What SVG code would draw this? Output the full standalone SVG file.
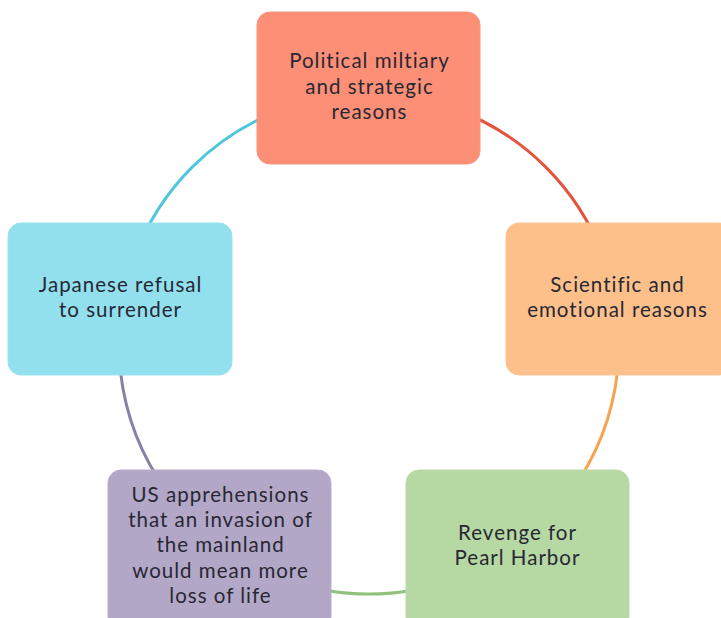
<svg xmlns="http://www.w3.org/2000/svg" width="721" height="618" viewBox="0 0 721 618">
<style>
.box{stroke-width:1.5}
.lbl{font-family:Lato,"Open Sans",sans-serif;font-size:20.5px;letter-spacing:1px;fill:#272833;text-anchor:middle}
.arc{fill:none;stroke-width:3;stroke-linecap:round}
</style>
<rect width="721" height="618" fill="#ffffff"/>
<g id="connectors">
<path class="arc" stroke="#4fc6da" d="M134,258.5 A250,250 0 0 1 283.5,109"/>
<path class="arc" stroke="#e5533d" d="M454.5,109 A250,250 0 0 1 604,258.5"/>
<path class="arc" stroke="#f6a24e" d="M604,258.5 A250,250 0 0 1 560.5,504.7"/>
<path class="arc" stroke="#90c27c" d="M454.5,579 A250,250 0 0 1 283.5,579"/>
<path class="arc" stroke="#8a7fa6" d="M177.5,504.7 A250,250 0 0 1 134,258.5"/>
</g>
<g id="node-political">
<rect x="257" y="12" width="223" height="152" rx="13" fill="#fd8f76" stroke="#f7977f"/>
<text class="lbl" x="369.5" y="68">Political miltiary</text>
<text class="lbl" x="369.5" y="94">and strategic</text>
<text class="lbl" x="369.5" y="119">reasons</text>
</g>
<g id="node-scientific">
<rect x="506" y="223" width="226" height="152" rx="13" fill="#fdc08a" stroke="#f9c596"/>
<text class="lbl" x="617.5" y="292">Scientific and</text>
<text class="lbl" x="617.5" y="317">emotional reasons</text>
</g>
<g id="node-revenge">
<rect x="406" y="470" width="223" height="160" rx="13" fill="#b6d8a3" stroke="#bcdaa9"/>
<text class="lbl" x="517.5" y="540">Revenge for</text>
<text class="lbl" x="517.5" y="565">Pearl Harbor</text>
</g>
<g id="node-us">
<rect x="108" y="470" width="223" height="160" rx="13" fill="#b3a7c7" stroke="#b9adcb"/>
<text class="lbl" x="220.5" y="502">US apprehensions</text>
<text class="lbl" x="220.5" y="527">that an invasion of</text>
<text class="lbl" x="220.5" y="552">the mainland</text>
<text class="lbl" x="220.5" y="578">would mean more</text>
<text class="lbl" x="220.5" y="603">loss of life</text>
</g>
<g id="node-japanese">
<rect x="8" y="223" width="224" height="152" rx="13" fill="#92e0ee" stroke="#99e1ee"/>
<text class="lbl" x="120.5" y="292">Japanese refusal</text>
<text class="lbl" x="120.5" y="317">to surrender</text>
</g>
</svg>
